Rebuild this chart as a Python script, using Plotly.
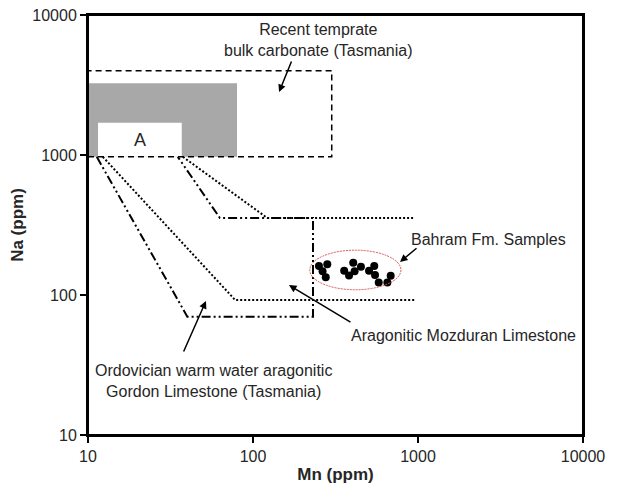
import plotly.graph_objects as go

# ---- data (ppm) ----
# Bahram Fm. samples
mn_samples = [251, 282, 264, 276, 357, 405, 451, 382, 413, 505, 543, 549, 578, 652, 683]
na_samples = [161, 166, 148, 134, 149, 170, 159, 138, 148, 149, 161, 139, 123, 123, 137]

# Ordovician warm water aragonitic Gordon Limestone (dash-dot-dot outline)
ordo_mn = [11.3, 40, 231, 231, 63, 35]
ordo_na = [970, 70, 70, 355, 355, 970]

# Aragonitic Mozduran Limestone (dotted bounds)
moz_low_mn = [12.3, 78, 960]
moz_low_na = [970, 92, 92]
moz_up_mn = [37.6, 122, 960]
moz_up_na = [970, 355, 355]

# Recent temperate bulk carbonate (dashed box)
recent_mn = [10, 300]
recent_na = [970, 4000]
# gray field and box A
gray_mn = [10, 80]
gray_na = [970, 3250]
a_mn = [11.5, 37]
a_na = [970, 1700]
# ellipse around samples
ell_mn = [221, 788]
ell_na = [109, 209]

tick_vals = [10, 100, 1000, 10000]
tick_text = ["10", "100", "1000", "10000"]

FONT = "Liberation Sans, Arial, sans-serif"
TXT = "#262626"

fig = go.Figure()

fig.add_trace(go.Scatter(x=ordo_mn, y=ordo_na, mode="lines",
                         line=dict(color="black", width=2, dash="9px,3px,2px,3px,2px,3px"),
                         showlegend=False, hoverinfo="skip"))
fig.add_trace(go.Scatter(x=moz_low_mn, y=moz_low_na, mode="lines",
                         line=dict(color="black", width=2, dash="2px,2px"),
                         showlegend=False, hoverinfo="skip"))
fig.add_trace(go.Scatter(x=moz_up_mn, y=moz_up_na, mode="lines",
                         line=dict(color="black", width=2, dash="2px,2px"),
                         showlegend=False, hoverinfo="skip"))
fig.add_trace(go.Scatter(x=mn_samples, y=na_samples, mode="markers",
                         marker=dict(color="black", size=8),
                         showlegend=False, hoverinfo="skip"))

shapes = [
    dict(type="rect", xref="x", yref="y", x0=gray_mn[0], x1=gray_mn[1], y0=gray_na[0], y1=gray_na[1],
         fillcolor="#a8a8a8", line=dict(width=0), layer="below"),
    dict(type="rect", xref="x", yref="y", x0=a_mn[0], x1=a_mn[1], y0=a_na[0], y1=a_na[1],
         fillcolor="white", line=dict(width=0), layer="below"),
    dict(type="rect", xref="x", yref="y", x0=recent_mn[0], x1=recent_mn[1], y0=recent_na[0], y1=recent_na[1],
         fillcolor="rgba(0,0,0,0)", line=dict(color="black", width=1.5, dash="6px,4px")),
    dict(type="circle", xref="x", yref="y", x0=ell_mn[0], x1=ell_mn[1], y0=ell_na[0], y1=ell_na[1],
         fillcolor="rgba(0,0,0,0)", line=dict(color="#d9534f", width=1, dash="2px,1px")),
    # frame around the plot area
    dict(type="rect", xref="paper", yref="paper", x0=0, x1=1, y0=0, y1=1,
         fillcolor="rgba(0,0,0,0)", line=dict(color="black", width=2)),
]

tf = dict(family=FONT, size=16, color=TXT)
annotations = [
    dict(x=2.394, y=3.82, xref="x", yref="y", text="Recent temprate<br>bulk carbonate (Tasmania)",
         showarrow=False, font=tf, align="center"),
    dict(x=2.158, y=3.45, xref="x", yref="y", text="", showarrow=True, ax=13, ay=-32,
         arrowhead=2, arrowsize=1, arrowwidth=1.5, arrowcolor="black"),
    dict(x=1.315, y=3.107, xref="x", yref="y", text="A", showarrow=False,
         font=dict(family=FONT, size=18, color=TXT)),
    dict(x=3.43, y=2.393, xref="x", yref="y", text="Bahram Fm. Samples", showarrow=False, font=tf),
    dict(x=2.891, y=2.236, xref="x", yref="y", text="", showarrow=True, ax=18, ay=-15,
         arrowhead=2, arrowsize=1, arrowwidth=1.5, arrowcolor="black"),
    dict(x=3.273, y=1.714, xref="x", yref="y", text="Aragonitic Mozduran Limestone", showarrow=False, font=tf),
    dict(x=2.218, y=2.071, xref="x", yref="y", text="", showarrow=True, ax=63, ay=38,
         arrowhead=2, arrowsize=1, arrowwidth=1.5, arrowcolor="black"),
    dict(x=1.758, y=1.386, xref="x", yref="y",
         text="Ordovician warm water aragonitic<br>Gordon Limestone (Tasmania)",
         showarrow=False, font=tf, align="center"),
    dict(x=1.715, y=1.957, xref="x", yref="y", text="", showarrow=True, ax=-23, ay=52,
         arrowhead=2, arrowsize=1, arrowwidth=1.5, arrowcolor="black"),
]

axis_common = dict(type="log", showgrid=False, zeroline=False, showline=True, linecolor="black",
                   linewidth=2, mirror=True, ticks="outside", ticklen=6, tickwidth=2, tickcolor="black",
                   tickvals=tick_vals, ticktext=tick_text, automargin=False,
                   ticklabeloverflow="allow",
                   tickfont=dict(family=FONT, size=16, color=TXT))

fig.update_layout(
    width=616, height=479,
    margin=dict(l=80, r=41, t=7, b=52),
    paper_bgcolor="white", plot_bgcolor="white",
    xaxis=dict(range=[1, 4], title=dict(text="<b>Mn (ppm)</b>", standoff=4,
               font=dict(family=FONT, size=17, color=TXT)), **axis_common),
    yaxis=dict(range=[1, 4], title=dict(text="<b>Na (ppm)</b>", standoff=14,
               font=dict(family=FONT, size=17, color=TXT)), **axis_common),
    shapes=shapes, annotations=annotations,
)

fig.write_html("out.html")
